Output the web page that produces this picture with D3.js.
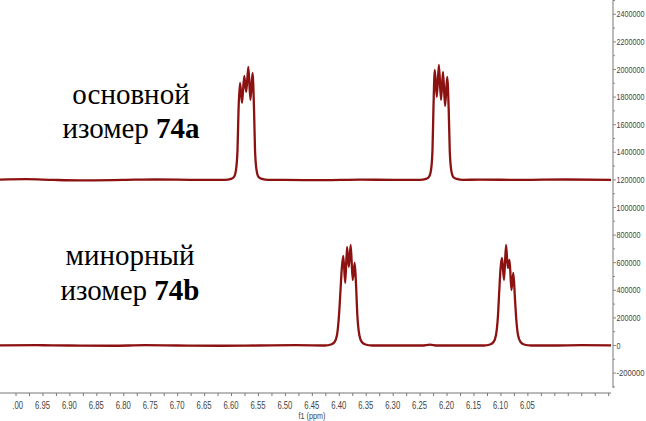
<!DOCTYPE html>
<html><head><meta charset="utf-8">
<script src="https://cdn.jsdelivr.net/npm/d3@7"></script>
<style>
html,body{margin:0;padding:0;background:#fff;}
svg{display:block;}
</style></head>
<body>
<script>
// ---- data ----
const upperOffset = 1200000;
const upperPpm = [7.035,6.980,6.930,6.880,6.800,6.740,6.660,6.630,
  6.6112,6.6000,6.5945,6.5908,6.5880,6.5861,6.5833,6.5796,6.5755,6.5718,6.5679,6.5640,6.5601,6.5573,6.5555,6.5527,6.5490,6.5425,6.5314,
  6.500,6.430,6.360,6.300,6.270,
  6.2493,6.2381,6.2326,6.2288,6.2261,6.2244,6.2218,6.2181,6.2142,6.2103,6.2066,6.2027,6.1988,6.1960,6.1941,6.1914,6.1876,6.1811,6.1695,
  6.140,6.060,5.980,5.890];
const upperVal = [2000,5000,0,-3000,0,3000,0,0,
  0,7200,21700,72500,217000,507000,703000,558000,754000,638000,819000,580000,775000,507000,217000,72500,21700,7200,0,
  0,-2000,2000,0,0,
  0,7200,21700,72500,217000,507000,797000,601000,833000,580000,783000,536000,746000,507000,217000,72500,21700,7200,0,
  2000,0,3000,0];
const lowerPpm = [7.035,6.960,6.900,6.820,6.760,6.700,6.620,6.550,6.480,
  6.4256,6.4144,6.4079,6.4033,6.3996,6.3968,6.3944,6.3916,6.3881,6.3847,6.3814,6.3779,6.3742,6.3705,6.3680,6.3656,6.3619,6.3573,6.3504,6.3383,
  6.300,6.245,6.231,6.217,6.170,
  6.1305,6.1193,6.1128,6.1082,6.1045,6.1021,6.0997,6.0971,6.0934,6.0896,6.0863,6.0831,6.0796,6.0761,6.0729,6.0705,6.0674,6.0627,6.0562,6.0432,
  6.000,5.950,5.890];
const lowerVal = [0,2000,0,-2000,2000,0,-2000,0,2000,
  0,7200,25400,76000,221000,402000,561000,648500,452900,713700,568800,728200,474600,597800,438000,221000,76000,25400,7200,0,
  0,0,7000,0,0,
  0,7200,25400,76000,221000,402000,561000,634000,474600,728200,561600,619500,402100,525300,329700,184800,76000,25400,7200,0,
  0,2000,0];
const xTickLabels = ["7.00","6.95","6.90","6.85","6.80","6.75","6.70","6.65","6.60","6.55","6.50","6.45","6.40","6.35","6.30","6.25","6.20","6.15","6.10","6.05"];
const yTickLabels = [2400000,2200000,2000000,1800000,1600000,1400000,1200000,1000000,800000,600000,400000,200000,0,-200000];
const xTitle = "f1 (ppm)";
const labelUpper = ["основной", "изомер ", "74a"];
const labelLower = ["минорный", "изомер ", "74b"];

// ---- layout ----
const W = 646, H = 421;
const plotRight = 611, axisX = 613, xAxisY = 393, yAxisBottom = 388;
const x = d3.scaleLinear().domain([7.0288, 5.8948]).range([0, plotRight]);
const y = d3.scaleLinear().domain([-308000, 2503600]).range([yAxisBottom, 0]);

const svg = d3.select("body").append("svg").attr("width", W).attr("height", H);
const defs = svg.append("defs");
defs.append("clipPath").attr("id","plotclip")
  .append("rect").attr("x",0).attr("y",0).attr("width",plotRight).attr("height",H);
defs.append("clipPath").attr("id","xlabclip")
  .append("rect").attr("x",12).attr("y",0).attr("width",W).attr("height",H);

const line = d3.line().curve(d3.curveMonotoneX);
const lineColor = "#8c1212";
const upperPts = upperPpm.map((p,i)=>[x(p), y(upperVal[i] + upperOffset)]);
const lowerPts = lowerPpm.map((p,i)=>[x(p), y(lowerVal[i])]);
const g = svg.append("g").attr("clip-path","url(#plotclip)");
[upperPts, lowerPts].forEach(pts => {
  g.append("path").attr("d", line(pts)).attr("fill","none")
    .attr("stroke", lineColor).attr("stroke-width", 2.3).attr("stroke-linejoin","round");
});

// x axis
const tickFont = "'Liberation Sans Narrow','Liberation Sans',Arial,sans-serif";
const minorX = d3.range(0, 46).map(i => 7.0 - i*0.025).filter(v => v > x.domain()[1]);
const xAxisG = svg.append("g").attr("transform", `translate(0,${xAxisY})`);
xAxisG.call(d3.axisBottom(x).tickValues(minorX).tickSize(3).tickFormat(""));
xAxisG.select(".domain").attr("d", `M0,0H${plotRight}`).attr("stroke","#777");
xAxisG.selectAll(".tick line").attr("stroke","#777");
const xlab = svg.append("g").attr("clip-path","url(#xlabclip)");
xlab.selectAll("text").data(xTickLabels).join("text")
  .attr("x", d => x(+d)).attr("y", xAxisY + 16)
  .attr("text-anchor","middle").attr("font-family", tickFont).attr("font-size", 10)
  .attr("textLength", 15).attr("lengthAdjust","spacingAndGlyphs")
  .attr("fill","#444").text(d => d);
svg.append("text").attr("x", 312).attr("y", 419).attr("text-anchor","middle")
  .attr("font-family", tickFont).attr("font-size", 9).attr("fill","#444")
  .attr("textLength", 27).attr("lengthAdjust","spacingAndGlyphs").text(xTitle);

// y axis (right)
const yAxisG = svg.append("g").attr("transform", `translate(${axisX},0)`);
yAxisG.append("line").attr("x1",0).attr("x2",0).attr("y1",0).attr("y2",yAxisBottom).attr("stroke","#777");
const minorY = d3.range(-300000, 2500001, 100000);
yAxisG.selectAll("line.minor").data(minorY).join("line").attr("class","minor")
  .attr("x1",0).attr("x2", d => (d % 200000 === 0) ? 3 : 2)
  .attr("y1", d => y(d)).attr("y2", d => y(d)).attr("stroke","#888");
yAxisG.selectAll("text").data(yTickLabels).join("text")
  .attr("x", 3.5).attr("y", d => y(d) + 3.2)
  .attr("font-family", tickFont).attr("font-size", 9.5).attr("fill","#444")
  .attr("textLength", d => String(d).length * 4.0).attr("lengthAdjust","spacingAndGlyphs")
  .text(d => d);

// annotations
const serif = "'Liberation Serif','Times New Roman',serif";
function label(lines, cx, y1, y2) {
  svg.append("text").attr("x", cx).attr("y", y1).attr("text-anchor","middle")
    .attr("font-family", serif).attr("font-size", 29).attr("fill","#000").text(lines[0]);
  const t = svg.append("text").attr("x", cx).attr("y", y2).attr("text-anchor","middle")
    .attr("font-family", serif).attr("font-size", 29).attr("fill","#000");
  t.append("tspan").text(lines[1]);
  t.append("tspan").attr("font-weight","bold").text(lines[2]);
}
label(labelUpper, 131, 104, 138);
label(labelLower, 130, 265, 300);
</script>
</body></html>
